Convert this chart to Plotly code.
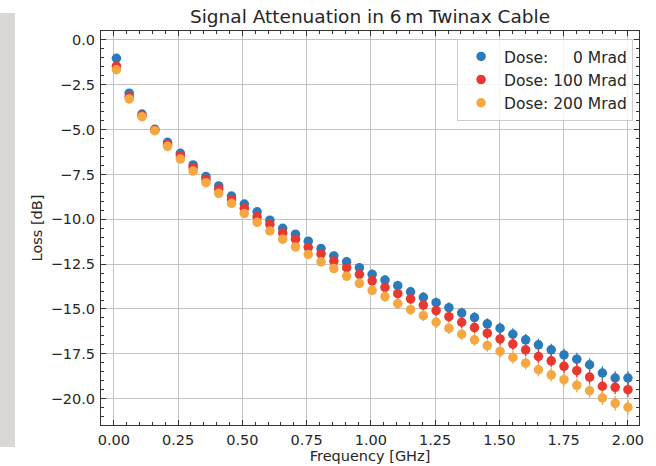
import plotly.graph_objects as go

freq_ghz = [0.0100, 0.0598, 0.1095, 0.1593, 0.2090, 0.2588, 0.3085, 0.3583, 0.4080, 0.4578,
            0.5075, 0.5573, 0.6070, 0.6568, 0.7065, 0.7563, 0.8060, 0.8558, 0.9055, 0.9553,
            1.0050, 1.0548, 1.1045, 1.1543, 1.2040, 1.2538, 1.3035, 1.3533, 1.4030, 1.4528,
            1.5025, 1.5523, 1.6020, 1.6518, 1.7015, 1.7513, 1.8010, 1.8508, 1.9005, 1.9503,
            2.0000]

loss_0mrad = [-1.02, -2.97, -4.13, -4.98, -5.71, -6.32, -6.97, -7.62, -8.14, -8.70,
              -9.15, -9.58, -10.05, -10.50, -10.83, -11.22, -11.63, -12.04, -12.37, -12.70,
              -13.07, -13.39, -13.70, -14.04, -14.35, -14.65, -14.93, -15.22, -15.48, -15.83,
              -16.07, -16.41, -16.72, -17.00, -17.28, -17.56, -17.80, -18.11, -18.57, -18.85,
              -18.85]
loss_100mrad = [-1.46, -3.16, -4.20, -5.02, -5.82, -6.45, -7.12, -7.77, -8.31, -8.89,
                -9.39, -9.86, -10.28, -10.76, -11.11, -11.57, -11.93, -12.33, -12.70, -13.07,
                -13.43, -13.80, -14.15, -14.44, -14.78, -15.09, -15.43, -15.74, -16.04, -16.35,
                -16.67, -16.96, -17.28, -17.65, -17.89, -18.20, -18.44, -18.80, -19.31, -19.37,
                -19.50]
loss_200mrad = [-1.66, -3.29, -4.28, -5.06, -5.93, -6.64, -7.31, -7.96, -8.55, -9.11,
                -9.67, -10.17, -10.65, -11.11, -11.54, -11.96, -12.37, -12.75, -13.17, -13.57,
                -13.96, -14.31, -14.70, -15.04, -15.37, -15.74, -16.07, -16.41, -16.72, -17.04,
                -17.37, -17.70, -18.02, -18.39, -18.67, -18.94, -19.26, -19.56, -19.96, -20.26,
                -20.48]

series_names = ["Dose: \u2007\u20070 Mrad", "Dose: 100 Mrad", "Dose: 200 Mrad"]
series_values = [loss_0mrad, loss_100mrad, loss_200mrad]
series_colors = ["#2b7bba", "#e8382f", "#f5a742"]

FONT = "DejaVu Sans"
TXT = "#262626"

fig = go.Figure()
for name, vals, col in zip(series_names, series_values, series_colors):
    fig.add_trace(go.Scatter(
        x=freq_ghz, y=vals, name=name, mode="markers",
        marker=dict(color=col, size=9.5, line=dict(width=0)),
        error_y=dict(type="percent", value=2.0, color=col, thickness=1.3, width=0),
        error_x=dict(type="constant", value=0.01, color=col, thickness=1.3, width=0),
    ))

axis_common = dict(
    showline=True, linecolor="#333333", linewidth=1, mirror="allticks",
    ticks="inside", ticklen=5, tickwidth=1, tickcolor="#333333",
    showgrid=True, gridcolor="#c4c4c4", gridwidth=1, zeroline=False,
    tickfont=dict(family=FONT, size=14.5, color=TXT),
)

fig.update_xaxes(
    range=[-0.05, 2.043], tickmode="array",
    tickvals=[0, 0.25, 0.5, 0.75, 1.0, 1.25, 1.5, 1.75, 2.0],
    ticktext=["0.00", "0.25", "0.50", "0.75", "1.00", "1.25", "1.50", "1.75", "2.00"],
    minor=dict(dtick=0.05, ticks="inside", ticklen=3, tickcolor="#333333", showgrid=False),
    title=dict(text="Frequency [GHz]", font=dict(family=FONT, size=14.5, color=TXT), standoff=2),
    ticklabelstandoff=2,
    **axis_common,
)
fig.update_yaxes(
    range=[-21.47, 0.5], tickmode="array",
    tickvals=[0, -2.5, -5, -7.5, -10, -12.5, -15, -17.5, -20],
    ticktext=["0.0", "\u22122.5", "\u22125.0", "\u22127.5", "\u221210.0", "\u221212.5",
              "\u221215.0", "\u221217.5", "\u221220.0"],
    minor=dict(dtick=0.5, ticks="inside", ticklen=3, tickcolor="#333333", showgrid=False),
    title=dict(text="Loss [dB]", font=dict(family=FONT, size=14.5, color=TXT), standoff=4),
    ticklabelstandoff=2,
    **axis_common,
)

fig.update_layout(
    width=656, height=466,
    margin=dict(l=101, r=17, t=31, b=41, autoexpand=False),
    paper_bgcolor="white", plot_bgcolor="white",
    title=dict(text="Signal Attenuation in 6\u2009m Twinax Cable",
               font=dict(family=FONT, size=18.5, color=TXT),
               x=0.5, xref="paper", xanchor="center",
               y=1 - 17 / 466, yref="container", yanchor="middle"),
    legend=dict(x=0.989, y=0.98, xanchor="right", yanchor="top",
                bgcolor="rgba(255,255,255,0.85)", bordercolor="#cccccc", borderwidth=1,
                itemwidth=36,
                font=dict(family=FONT, size=15.5, color=TXT)),
    showlegend=True,
    shapes=[dict(type="rect", xref="paper", yref="paper",
                 x0=-101 / 538, x1=-86 / 538, y0=(425 - 447) / 394, y1=(425 - 13) / 394,
                 fillcolor="#dad8d5", line=dict(width=0), layer="below")],
)

fig.write_html("out.html", config={"displayModeBar": False},
               post_script="document.body.style.margin='0';")
